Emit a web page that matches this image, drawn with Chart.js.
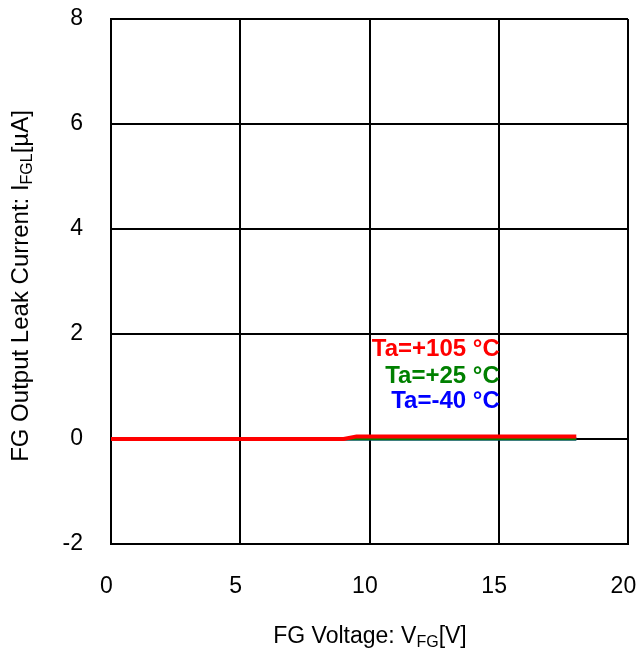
<!DOCTYPE html>
<html>
<head>
<meta charset="utf-8">
<script src="https://cdn.jsdelivr.net/npm/chart.js@4/dist/chart.umd.min.js"></script>
<style>
html,body{margin:0;padding:0;background:#fff;}
#wrap{width:639px;height:651px;position:relative;}
</style>
</head>
<body>
<div id="wrap"><canvas id="c" width="639" height="651"></canvas></div>
<script>
// Data
const voltages = [0, 9, 9.5, 18];           // V_FG [V]
const leak105 = [0, 0, 0.05, 0.05];         // Ta=+105 °C  [µA]
const leak25 = [0, 0, 0, 0];                // Ta=+25 °C   [µA]
const leakM40 = [0, 0, 0, 0];               // Ta=-40 °C   [µA]
const xTicks = [0, 5, 10, 15, 20];
const yTicks = [-2, 0, 2, 4, 6, 8];
const seriesLabels = ['Ta=+105 °C', 'Ta=+25 °C', 'Ta=-40 °C'];
const seriesColors = ['#ff0000', '#008000', '#0000ff'];

const toPts = (xs, ys) => xs.map((x, i) => ({x: x, y: ys[i]}));
const FONT = '"Liberation Sans", Arial, sans-serif';

const overlay = {
  id: 'overlay',
  afterDraw(chart) {
    const ctx = chart.ctx;
    const xs = chart.scales.x;
    ctx.save();
    // legend labels
    ctx.font = 'bold 24px ' + FONT;
    ctx.textAlign = 'right';
    ctx.textBaseline = 'alphabetic';
    const rx = xs.getPixelForValue(15) + 1;
    const base = [356, 383, 408];
    seriesLabels.forEach((t, i) => {
      ctx.fillStyle = seriesColors[i];
      ctx.fillText(t, rx, base[i]);
    });
    ctx.fillStyle = '#000';
    const drawRich = (parts, cx, by) => {
      let w = 0;
      parts.forEach(p => { ctx.font = p[1] + 'px ' + FONT; w += ctx.measureText(p[0]).width; });
      let x = cx - w / 2;
      ctx.textAlign = 'left';
      parts.forEach(p => {
        ctx.font = p[1] + 'px ' + FONT;
        ctx.fillText(p[0], x, by + p[2]);
        x += ctx.measureText(p[0]).width;
      });
    };
    // x axis title with subscript
    drawRich([['FG Voltage: V', 23, 0], ['FG', 16, 4], ['[V]', 23, 0]], 370, 643);
    // y axis title rotated
    ctx.translate(28, 286);
    ctx.rotate(-Math.PI / 2);
    drawRich([['FG Output Leak Current: I', 24, 0], ['FGL', 16, 4], ['[µA]', 24, 0]], 0, 0);
    ctx.restore();
  }
};

const noPad = s => { s.paddingTop = 0; s.paddingBottom = 0; s.paddingLeft = 0; s.paddingRight = 0; };

new Chart(document.getElementById('c'), {
  type: 'scatter',
  data: {
    datasets: [
      {label: seriesLabels[0], data: toPts(voltages, leak105), showLine: true, borderColor: seriesColors[0], borderWidth: 4, pointRadius: 0, tension: 0},
      {label: seriesLabels[1], data: toPts(voltages, leak25), showLine: true, borderColor: seriesColors[1], borderWidth: 3, pointRadius: 0, tension: 0},
      {label: seriesLabels[2], data: toPts(voltages, leakM40), showLine: true, borderColor: seriesColors[2], borderWidth: 3, pointRadius: 0, tension: 0}
    ]
  },
  options: {
    responsive: false,
    animation: false,
    layout: {padding: {left: 0, top: 19, right: 11, bottom: 0}},
    plugins: {legend: {display: false}, tooltip: {enabled: false}},
    scales: {
      x: {
        type: 'linear', min: 0, max: 20,
        afterBuildTicks: s => { s.ticks = xTicks.map(v => ({value: v})); },
        afterFit: s => { s.height = 107; noPad(s); },
        grid: {color: '#000', lineWidth: 2, drawTicks: false},
        border: {color: '#000', width: 2},
        ticks: {color: '#000', font: {family: FONT, size: 23}, padding: 29, maxRotation: 0,
                callback: v => String(v) + '\u2009\u2009'}
      },
      y: {
        type: 'linear', min: -2, max: 8,
        afterBuildTicks: s => { s.ticks = yTicks.map(v => ({value: v})); },
        afterFit: s => { s.width = 111; noPad(s); },
        grid: {color: '#000', lineWidth: 2, drawTicks: false},
        border: {color: '#000', width: 2},
        ticks: {color: '#000', font: {family: FONT, size: 23}, padding: 28}
      }
    }
  },
  plugins: [overlay]
});
</script>
</body>
</html>
